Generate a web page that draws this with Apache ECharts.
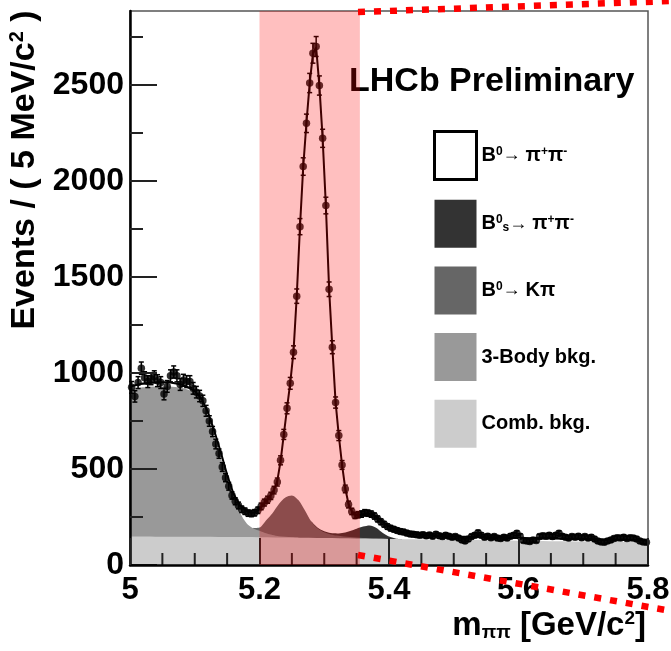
<!DOCTYPE html>
<html><head><meta charset="utf-8">
<script src="https://cdn.jsdelivr.net/npm/echarts@6/dist/echarts.min.js"></script>
<style>html,body{margin:0;padding:0;background:#fff}#c{width:671px;height:651px}</style>
</head><body><div id="c"></div>
<script>
// ---------------- data ----------------
const massMin = 5.0;          // GeV/c^2, lower edge of first bin
const binWidth = 0.005;       // 5 MeV bins
const counts = [
  925, 878, 950, 1025, 975, 955, 970, 980, 960, 950, 890, 930, 985, 1005, 985, 940, 962, 955, 955, 920,
  900, 880, 855, 803, 750, 695, 630, 580, 510, 455, 410, 362, 332, 310, 290, 280, 270, 268, 272, 285,
  305, 325, 340, 360, 390, 432, 545, 680, 816, 946, 1108, 1400, 1762, 2075, 2300, 2510, 2665, 2700, 2497, 2222,
  1872, 1436, 1134, 846, 674, 521, 396, 315, 279, 258,
  262, 265, 272, 270, 265, 255, 240, 225, 212, 200,
  192, 186, 180, 175, 172, 166, 162, 160, 158, 155,
  158, 152, 156, 150, 160, 152, 148, 155, 150, 145,
  148, 140, 130, 125, 135, 148, 155, 168, 155, 145,
  150, 142, 148, 140, 138, 145, 140, 150, 155, 165,
  150, 128, 125, 122, 130, 128, 148, 152, 150, 155,
  148, 155, 165, 150, 145, 140, 148, 145, 150, 142,
  148, 140, 145, 135, 125, 120, 118, 125, 130, 138,
  142, 140, 145, 138, 142, 140, 135, 125, 120, 118
];
// cumulative fit layers (top edge of each filled band)
const combX = [5.0, 5.1, 5.2, 5.3, 5.4, 5.5, 5.6, 5.7, 5.8];
const combY = [149, 147, 145, 141, 136, 131, 126, 122, 118];
const threeBodyX = [5.00, 5.02, 5.04, 5.06, 5.08, 5.09, 5.10, 5.11, 5.12, 5.13, 5.14, 5.15, 5.16, 5.17, 5.18, 5.19, 5.20, 5.21, 5.22, 5.23, 5.24, 5.25, 5.26];
const threeBodyY = [915, 925, 930, 930, 922, 912, 895, 845, 765, 665, 560, 462, 360, 272, 218, 192, 178, 165, 156, 150, 147, 145, 143];
const kpiX = [5.19, 5.20, 5.21, 5.22, 5.23, 5.24, 5.25, 5.26, 5.27, 5.28, 5.29, 5.30, 5.31, 5.32, 5.33, 5.34, 5.35, 5.36, 5.38, 5.40, 5.42];
const kpiY = [192, 195, 232, 270, 318, 352, 362, 338, 285, 226, 190, 170, 159, 153, 149, 146, 143, 141, 139, 136, 134];
const bsX = [5.28, 5.29, 5.30, 5.31, 5.32, 5.33, 5.34, 5.35, 5.36, 5.37, 5.38, 5.39, 5.40, 5.41, 5.42];
const bsY = [228, 194, 176, 166, 164, 168, 177, 189, 200, 206, 194, 168, 148, 138, 134];
const fitX = [5.000, 5.020, 5.040, 5.060, 5.080, 5.090, 5.100, 5.110, 5.120, 5.130, 5.140, 5.150, 5.160, 5.170, 5.180,
  5.1875, 5.1925, 5.1975, 5.2025, 5.2075, 5.2125, 5.2175, 5.2225, 5.2275, 5.2325, 5.2375, 5.2425, 5.2475, 5.2525, 5.2575,
  5.2625, 5.2675, 5.2725, 5.2775, 5.2825, 5.2875, 5.2925, 5.2975, 5.3025, 5.3075, 5.3125, 5.3175, 5.3225, 5.3275, 5.3325,
  5.3375, 5.3425, 5.3475, 5.3525, 5.3575, 5.365, 5.375, 5.385, 5.395, 5.405, 5.420, 5.440, 5.470, 5.500, 5.550,
  5.600, 5.650, 5.700, 5.750, 5.800];
const fitY = [930, 945, 952, 952, 940, 925, 905, 868, 800, 700, 590, 470, 370, 310, 282,
  272, 274, 285, 302, 322, 342, 364, 392, 438, 540, 678, 815, 950, 1110, 1398,
  1760, 2072, 2302, 2508, 2662, 2695, 2495, 2222, 1870, 1438, 1133, 848, 672, 522, 398,
  318, 280, 262, 258, 262, 268, 262, 242, 212, 192, 172, 160, 152, 148, 144,
  141, 138, 135, 132, 128];
const signalWindow = [5.2, 5.355];
const yMajorTicks = [0, 500, 1000, 1500, 2000, 2500];
const yMinorTicks = [250, 750, 1250, 1750, 2250, 2750];
const xMajorStep = 0.2;
const xMinorTicks = [5.05, 5.10, 5.15, 5.25, 5.30, 5.35, 5.45, 5.50, 5.55, 5.65, 5.70, 5.75];
const xTickLabels = ['5', '5.2', '5.4', '5.6', '5.8'];
const names = ['B0pipi', 'Bspipi', 'B0Kpi', 'threeBody', 'comb'];
const legendRich = {
  B0pipi: 'B{sup|0}{ar|→ }{pi|π}{sup|+}{pi|π}{sup|-}',
  Bspipi: 'B{sup|0}{sub|s}{ar|→ }{pi|π}{sup|+}{pi|π}{sup|-}',
  B0Kpi: 'B{sup|0}{ar|→ }K{pi|π}',
  threeBody: '3-Body bkg.',
  comb: 'Comb. bkg.'
};
const layerColors = ['#ffffff', '#333333', '#666666', '#999999', '#cccccc'];

// ---------------- chart ----------------
const FONT = '"Liberation Sans", Arial, Helvetica, sans-serif';
const points = counts.map((v, i) => [massMin + binWidth * (i + 0.5), v]);
const pair = (xs, ys) => xs.map((x, i) => [x, ys[i]]);
const layers = [pair(fitX, fitY), pair(bsX, bsY), pair(kpiX, kpiY), pair(threeBodyX, threeBodyY), pair(combX, combY)];

const chart = echarts.init(document.getElementById('c'), null, {renderer: 'canvas'});
const fillSeries = layers.map((d, k) => ({
  name: names[k], type: 'line', data: d, symbol: 'none', smooth: k === 0 ? false : 0.3,
  lineStyle: {width: 0}, areaStyle: {color: layerColors[k], opacity: 1},
  itemStyle: {color: layerColors[k]}, z: 1, silent: true
}));
const sup = (fs) => ({fontSize: fs, fontWeight: 'bold', fontFamily: FONT, color: '#000', verticalAlign: 'top', lineHeight: fs});
const tickStyle = {color: '#222', width: 2};
const labelStyle = {fontWeight: 'bold', fontFamily: FONT, color: '#000'};
const tickAxisY = (ticks, len) => ({
  type: 'value', min: 0, max: 2885, position: 'left', z: 10,
  axisLine: {show: false}, splitLine: {show: false}, axisLabel: {show: false},
  axisTick: {show: true, inside: true, length: len, customValues: ticks, lineStyle: tickStyle}
});

chart.setOption({
  animation: false,
  backgroundColor: '#fff',
  grid: {left: 130, top: 11, right: 23, bottom: 86, show: true, borderColor: '#555', borderWidth: 1.5,
    backgroundColor: 'transparent', containLabel: false, outerBoundsMode: 'none'},
  title: {text: 'LHCb Preliminary', left: 349, top: 65, padding: 0,
    textStyle: {fontSize: 34, fontWeight: 'bold', fontFamily: FONT, color: '#000'}},
  legend: {
    orient: 'vertical', left: 433, top: 130, padding: 0, itemWidth: 42, itemHeight: 48, itemGap: 18.7,
    icon: 'rect', selectedMode: false,
    formatter: n => legendRich[n],
    textStyle: {fontSize: 20, fontWeight: 'bold', fontFamily: FONT, color: '#000',
      rich: {sup: sup(12), sub: {fontSize: 12, fontWeight: 'bold', fontFamily: FONT, color: '#000', verticalAlign: 'bottom', lineHeight: 12},
             ar: {fontSize: 18, fontFamily: FONT, color: '#000'}, pi: {fontSize: 20, fontFamily: FONT, color: '#000'}}},
    data: names.map((n, k) => ({name: n, itemStyle: k === 0 ? {color: '#fff', borderColor: '#000', borderWidth: 3} : {color: layerColors[k], borderWidth: 0}}))
  },
  xAxis: {
    type: 'value', min: 5.0, max: 5.8, interval: xMajorStep, position: 'bottom', z: 11,
    axisLine: {show: true, onZero: false, lineStyle: {color: '#000', width: 2.5}},
    axisTick: {show: true, inside: true, length: 27, lineStyle: tickStyle},
    splitLine: {show: false},
    axisLabel: {...labelStyle, fontSize: 31, margin: 10,
      formatter: v => xTickLabels[Math.round((v - 5.0) / xMajorStep)] ?? ''},
    name: 'm{sub|ππ} [GeV/c{sup|2}]', nameLocation: 'end', nameGap: -2,
    nameTextStyle: {...labelStyle, fontSize: 33, align: 'right', verticalAlign: 'top', padding: [44, 0, 0, 0],
      rich: {sup: sup(19), sub: {fontSize: 19, fontFamily: FONT, fontWeight: 'bold', color: '#000', verticalAlign: 'bottom', lineHeight: 19}}}
  },
  yAxis: [{
    type: 'value', min: 0, max: 2885, position: 'left', z: 10,
    axisLine: {show: true, lineStyle: {color: '#000', width: 2.5}},
    axisTick: {show: false}, splitLine: {show: false},
    axisLabel: {...labelStyle, customValues: yMajorTicks, fontSize: 32, margin: 6, formatter: v => String(v)},
    name: 'Events / ( 5 MeV/c{sup|2} )', nameLocation: 'middle', nameRotate: 90, nameGap: 84,
    nameTextStyle: {...labelStyle, fontSize: 34, padding: [0, 0, 0, 236], rich: {sup: sup(20)}}
  }, tickAxisY(yMajorTicks, 27), tickAxisY(yMinorTicks, 13)],
  series: [
    ...fillSeries,
    {name: 'fit', type: 'line', data: pair(fitX, fitY), symbol: 'none', lineStyle: {color: '#000', width: 2}, z: 3, silent: true},
    {name: 'errors', type: 'custom', data: points, z: 4, silent: true, encode: {x: 0, y: 1},
      renderItem: (params, api) => {
        const x = api.value(0), v = api.value(1), e = Math.sqrt(v);
        const t = api.coord([x, v + e]), b = api.coord([x, v - e]);
        const st = {stroke: '#000', lineWidth: 1.5};
        return {type: 'group', children: [
          {type: 'line', shape: {x1: t[0], y1: t[1], x2: b[0], y2: b[1]}, style: st},
          {type: 'line', shape: {x1: t[0] - 2.5, y1: t[1], x2: t[0] + 2.5, y2: t[1]}, style: st},
          {type: 'line', shape: {x1: b[0] - 2.5, y1: b[1], x2: b[0] + 2.5, y2: b[1]}, style: st}
        ]};
      }},
    {name: 'data', type: 'scatter', data: points, symbolSize: 7.5, itemStyle: {color: '#000'}, z: 5, silent: true},
    {name: 'xMinorTicks', type: 'custom', data: xMinorTicks.map(v => [v, 0]), z: 10, silent: true, encode: {x: 0, y: 1},
      renderItem: (params, api) => {
        const p = api.coord([api.value(0), 0]);
        return {type: 'line', shape: {x1: p[0], y1: p[1], x2: p[0], y2: p[1] - 12}, style: {stroke: '#222', lineWidth: 2}};
      }},
    {name: 'window', type: 'line', data: [], silent: true, z: 20,
      markArea: {silent: true, z: 20, itemStyle: {color: 'rgba(255,0,0,0.25)'},
        data: [[{xAxis: signalWindow[0]}, {xAxis: signalWindow[1]}]]}}
  ],
  graphic: [
    {type: 'line', z: 100, silent: true, shape: {x1: 358, y1: 12, x2: 671, y2: 1},
      style: {stroke: '#ff0000', lineWidth: 6.5, lineDash: [7, 9], lineCap: 'butt'}},
    {type: 'line', z: 100, silent: true, shape: {x1: 358, y1: 555, x2: 671, y2: 611},
      style: {stroke: '#ff0000', lineWidth: 6.5, lineDash: [7, 9], lineCap: 'butt'}}
  ]
});
</script></body></html>
